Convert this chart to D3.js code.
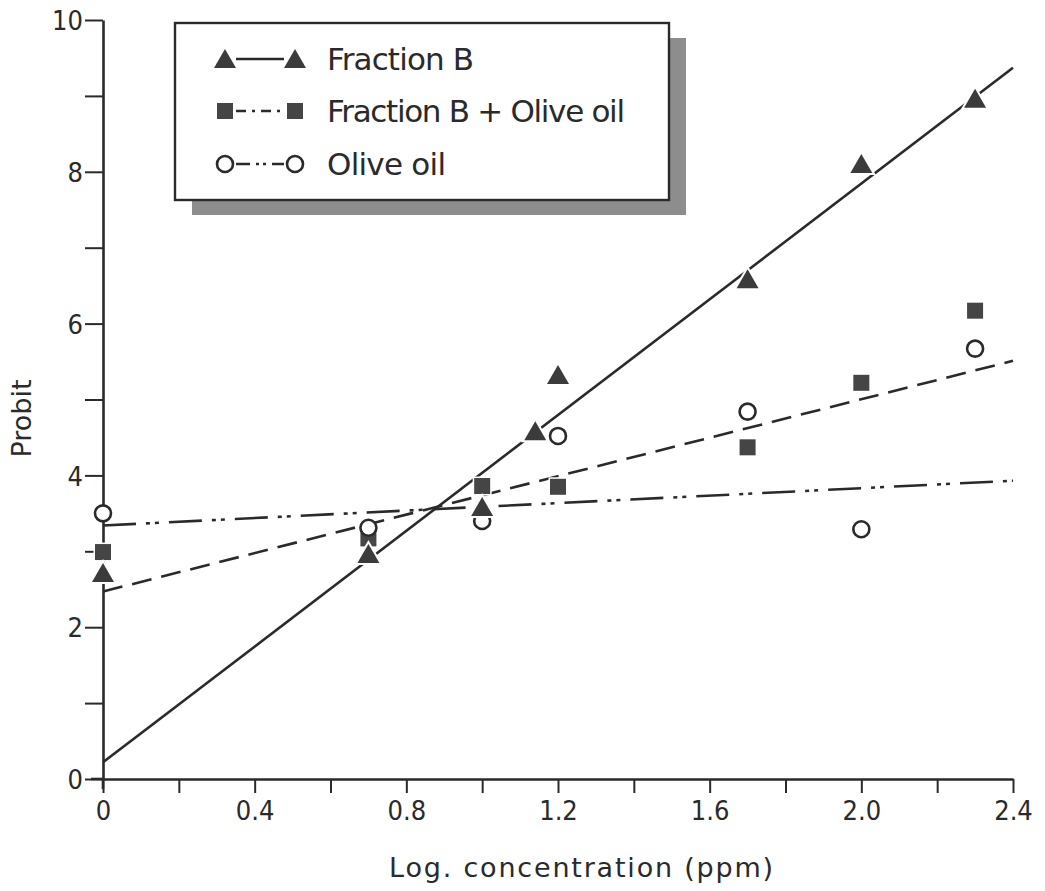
<!DOCTYPE html>
<html>
<head>
<meta charset="utf-8">
<script src="https://cdn.jsdelivr.net/npm/d3@7"></script>
<style>
  body { margin: 0; background: #fff; }
  svg { display: block; }
  text { fill: #2a2a2a; }
</style>
</head>
<body>
<div id="chart"></div>
<script>
// Data (x = log concentration, y = probit)
const fracBX = [0, 0.7, 1.0, 1.14, 1.2, 1.7, 2.0, 2.3];
const fracBY = [2.7, 2.95, 3.57, 4.57, 5.31, 6.57, 8.09, 8.95];
const fracBFit = [[0, 0.22], [2.4, 9.37]];

const fracOilX = [0, 0.7, 1.0, 1.2, 1.7, 2.0, 2.3];
const fracOilY = [2.99, 3.17, 3.86, 3.85, 4.37, 5.22, 6.17];
const fracOilFit = [[0, 2.47], [2.4, 5.51]];

const oilX = [0, 0.7, 1.0, 1.2, 1.7, 2.0, 2.3];
const oilY = [3.5, 3.31, 3.4, 4.52, 4.84, 3.29, 5.67];
const oilFit = [[0, 3.34], [2.4, 3.93]];

const xTicks = [0, 0.2, 0.4, 0.6, 0.8, 1.0, 1.2, 1.4, 1.6, 1.8, 2.0, 2.2, 2.4];
const xTickLabels = ["0", "", "0.4", "", "0.8", "", "1.2", "", "1.6", "", "2.0", "", "2.4"];
const yTicks = [0, 1, 2, 3, 4, 5, 6, 7, 8, 9, 10];
const yTickLabels = ["0", "", "2", "", "4", "", "6", "", "8", "", "10"];

const legendLabels = ["Fraction B", "Fraction B + Olive oil", "Olive oil"];

// Layout
const width = 1045, height = 891;
const margin = { top: 20, right: 32, bottom: 112, left: 103 };
const ink = "#2a2a2a";
const lineW = 2.6;
const cond = "'DejaVu Sans Condensed', 'DejaVu Sans', sans-serif";
const round = "'DejaVu Sans', sans-serif";

const x = d3.scaleLinear().domain([0, 2.4]).range([margin.left, width - margin.right]);
const y = d3.scaleLinear().domain([0, 10]).range([height - margin.bottom, margin.top]);

const svg = d3.select("#chart").append("svg")
  .attr("width", width)
  .attr("height", height);

// Axes
const xAxis = d3.axisBottom(x)
  .tickValues(xTicks)
  .tickFormat((d, i) => xTickLabels[i])
  .tickSize(14)
  .tickSizeOuter(0)
  .tickPadding(6);
const yAxis = d3.axisLeft(y)
  .tickValues(yTicks)
  .tickFormat((d, i) => yTickLabels[i])
  .tickSize(18)
  .tickSizeOuter(0)
  .tickPadding(2);

const gx = svg.append("g")
  .attr("transform", `translate(0, ${y(0)})`)
  .call(xAxis);
const gy = svg.append("g")
  .attr("transform", `translate(${x(0)}, 0)`)
  .call(yAxis);

[gx, gy].forEach((g) => {
  g.select(".domain").attr("stroke", ink).attr("stroke-width", lineW);
  g.selectAll(".tick line").attr("stroke", ink).attr("stroke-width", 2);
  g.selectAll(".tick text").attr("fill", ink)
    .attr("font-family", cond).attr("font-size", 27);
});
gx.selectAll(".tick text").attr("dy", "0.78em");
gy.selectAll(".tick text").attr("dy", "0.36em");

// little crossing at the origin
svg.append("line")
  .attr("x1", x(0) - 12).attr("x2", x(0))
  .attr("y1", y(0)).attr("y2", y(0))
  .attr("stroke", ink).attr("stroke-width", lineW);
svg.append("line")
  .attr("x1", x(0)).attr("x2", x(0))
  .attr("y1", y(0)).attr("y2", y(0) + 10)
  .attr("stroke", ink).attr("stroke-width", lineW);

// Axis titles
svg.append("text")
  .attr("x", 582)
  .attr("y", 877)
  .attr("text-anchor", "middle")
  .attr("font-family", round)
  .attr("font-size", 27)
  .attr("letter-spacing", 1.8)
  .text("Log. concentration (ppm)");
svg.append("text")
  .attr("transform", `translate(31, ${y(4.75)}) rotate(-90)`)
  .attr("text-anchor", "middle")
  .attr("font-family", round)
  .attr("font-size", 27)
  .text("Probit");

// Line styles
const dashFracOil = "20,10";
const dashOil = "33,10,4,5,4,10";

const line = d3.line().x((d) => x(d[0])).y((d) => y(d[1]));

svg.append("path").datum(fracBFit)
  .attr("d", line).attr("fill", "none")
  .attr("stroke", ink).attr("stroke-width", lineW);
svg.append("path").datum(fracOilFit)
  .attr("d", line).attr("fill", "none")
  .attr("stroke", ink).attr("stroke-width", lineW)
  .attr("stroke-dasharray", dashFracOil);
svg.append("path").datum(oilFit)
  .attr("d", line).attr("fill", "none")
  .attr("stroke", ink).attr("stroke-width", lineW)
  .attr("stroke-dasharray", dashOil);

// Marker shapes
const triPath = "M0,-11 L11,8 L-11,8 Z";
const sqSize = 16;

const drawTri = (g, cx, cy) =>
  g.append("path")
    .attr("d", triPath)
    .attr("transform", `translate(${cx}, ${cy})`)
    .attr("fill", "#3b3b3b")
    .attr("stroke", "#fff")
    .attr("stroke-width", 4)
    .attr("paint-order", "stroke");
const drawSq = (g, cx, cy) =>
  g.append("rect")
    .attr("x", cx - sqSize / 2).attr("y", cy - sqSize / 2)
    .attr("width", sqSize).attr("height", sqSize)
    .attr("fill", "#454545")
    .attr("stroke", "#fff")
    .attr("stroke-width", 3)
    .attr("paint-order", "stroke");
const drawCirc = (g, cx, cy) =>
  g.append("circle")
    .attr("cx", cx).attr("cy", cy).attr("r", 8)
    .attr("fill", "#fff")
    .attr("stroke", ink)
    .attr("stroke-width", 2.6);

const marks = svg.append("g");
fracOilX.forEach((d, i) => drawSq(marks, x(d), y(fracOilY[i])));
oilX.forEach((d, i) => drawCirc(marks, x(d), y(oilY[i])));
fracBX.forEach((d, i) => drawTri(marks, x(d), y(fracBY[i])));

// Legend with shaded drop shadow
const lg = svg.append("g");
const box = { x: 175, y: 23, w: 494, h: 177, dx: 17, dy: 15 };
lg.append("rect")
  .attr("x", box.x + box.dx).attr("y", box.y + box.dy)
  .attr("width", box.w).attr("height", box.h)
  .attr("fill", "#8d8d8d");
lg.append("rect")
  .attr("x", box.x).attr("y", box.y)
  .attr("width", box.w).attr("height", box.h)
  .attr("fill", "#fff")
  .attr("stroke", ink).attr("stroke-width", 2.4);

const rowsY = [59, 111, 164];
const symX0 = 225, symX1 = 295;
const legendDash = [null, "10,6,3,6", "14,6,3,4,3,6"];
const legendDraw = [drawTri, drawSq, drawCirc];
const legendLen = [147, 298, 119];

legendLabels.forEach((label, i) => {
  const ry = rowsY[i];
  const ln = lg.append("line")
    .attr("x1", symX0 + 11).attr("x2", symX1 - 11)
    .attr("y1", ry).attr("y2", ry)
    .attr("stroke", ink).attr("stroke-width", 2.4);
  if (legendDash[i]) ln.attr("stroke-dasharray", legendDash[i]);
  legendDraw[i](lg, symX0, ry + (i === 0 ? 1 : 0));
  legendDraw[i](lg, symX1, ry + (i === 0 ? 1 : 0));
  lg.append("text")
    .attr("x", 327).attr("y", ry)
    .attr("dy", "0.36em")
    .attr("font-size", 31)
    .attr("font-family", round)
    .attr("textLength", legendLen[i])
    .attr("lengthAdjust", "spacing")
    .text(label);
});
</script>
</body>
</html>
